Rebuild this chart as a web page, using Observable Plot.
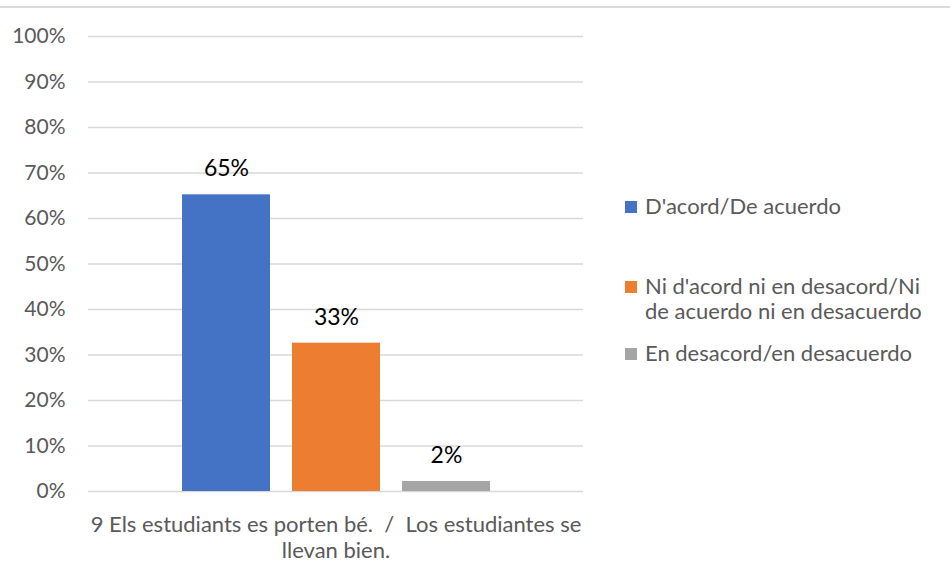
<!DOCTYPE html>
<html>
<head>
<meta charset="utf-8">
<script src="https://cdn.jsdelivr.net/npm/d3@7"></script>
<script src="https://cdn.jsdelivr.net/npm/@observablehq/plot@0.6"></script>
<style>
  html, body { margin: 0; padding: 0; background: #fff; }
  #wrap { position: relative; width: 950px; height: 577px; font-family: Lato, "Open Sans", sans-serif; }
  #topline { position: absolute; left: 0; top: 6px; width: 950px; height: 2px; background: #d9d9d9; }
  #legend { position: absolute; left: 625px; top: 0; color: #595959; font-size: 22px; line-height: 25px; }
  .item { position: absolute; left: 0; white-space: nowrap; }
  .sw { position: absolute; left: 0; top: 6px; width: 12px; height: 12px; }
  .lt { position: absolute; left: 20px; top: 0; }
</style>
</head>
<body>
<div id="wrap">
  <div id="chart"></div>
  <div id="topline"></div>
  <div id="legend"></div>
</div>
<script>
const category = "9 Els estudiants es porten bé.  /  Los estudiantes se\nllevan bien.";
const series = ["D'acord/De acuerdo", "Ni d'acord ni en desacord/Ni\nde acuerdo ni en desacuerdo", "En desacord/en desacuerdo"];
const values = [65.2, 32.6, 2.2];
const colors = ["#4472c4", "#ed7d31", "#a5a5a5"];
const yTicks = [0, 10, 20, 30, 40, 50, 60, 70, 80, 90, 100];

const data = series.map((s, i) => ({series: s, value: values[i]}));

const chart = Plot.plot({
  width: 950,
  height: 577,
  marginLeft: 88,
  marginRight: 367,
  marginTop: 36,
  marginBottom: 86,
  style: {fontFamily: "Lato, 'Open Sans', sans-serif", background: "transparent"},
  x: {domain: series, axis: null, paddingInner: 0.2, paddingOuter: 0.85},
  y: {domain: [0, 100], ticks: yTicks, tickFormat: d => d + "%", tickSize: 0, tickPadding: 23, label: null},
  color: {domain: series, range: colors},
  marks: [
    Plot.gridY(yTicks, {stroke: "#d9d9d9", strokeOpacity: 1, strokeWidth: 1.5}),
    Plot.barY(data, {x: "series", y: "value", fill: "series"}),
    Plot.text(data, {x: "series", y: "value", text: d => Math.round(d.value) + "%", dy: -26, fontSize: 23, fill: "#000"}),
    Plot.text([category], {frameAnchor: "bottom", text: d => d, dy: 45, lineAnchor: "middle", lineHeight: 1.18, fontSize: 22, fill: "#595959"})
  ]
});
const yl = chart.querySelector("[aria-label='y-axis tick label']");
if (yl) { yl.setAttribute("font-size", "21"); yl.setAttribute("fill", "#595959"); }
document.getElementById("chart").appendChild(chart);
const svg = document.querySelector("#chart svg");
svg.style.position = "absolute";
svg.style.left = "0";
svg.style.top = "0";

const legendTops = [193, 273, 340];
const legend = document.getElementById("legend");
series.forEach((s, i) => {
  const it = document.createElement("div");
  it.className = "item";
  it.style.top = legendTops[i] + "px";
  const sw = document.createElement("div");
  sw.className = "sw";
  sw.style.background = colors[i];
  sw.style.top = "8px";
  const lt = document.createElement("div");
  lt.className = "lt";
  lt.innerHTML = s.split("\n").join("<br>");
  it.appendChild(sw);
  it.appendChild(lt);
  legend.appendChild(it);
});
</script>
</body>
</html>
